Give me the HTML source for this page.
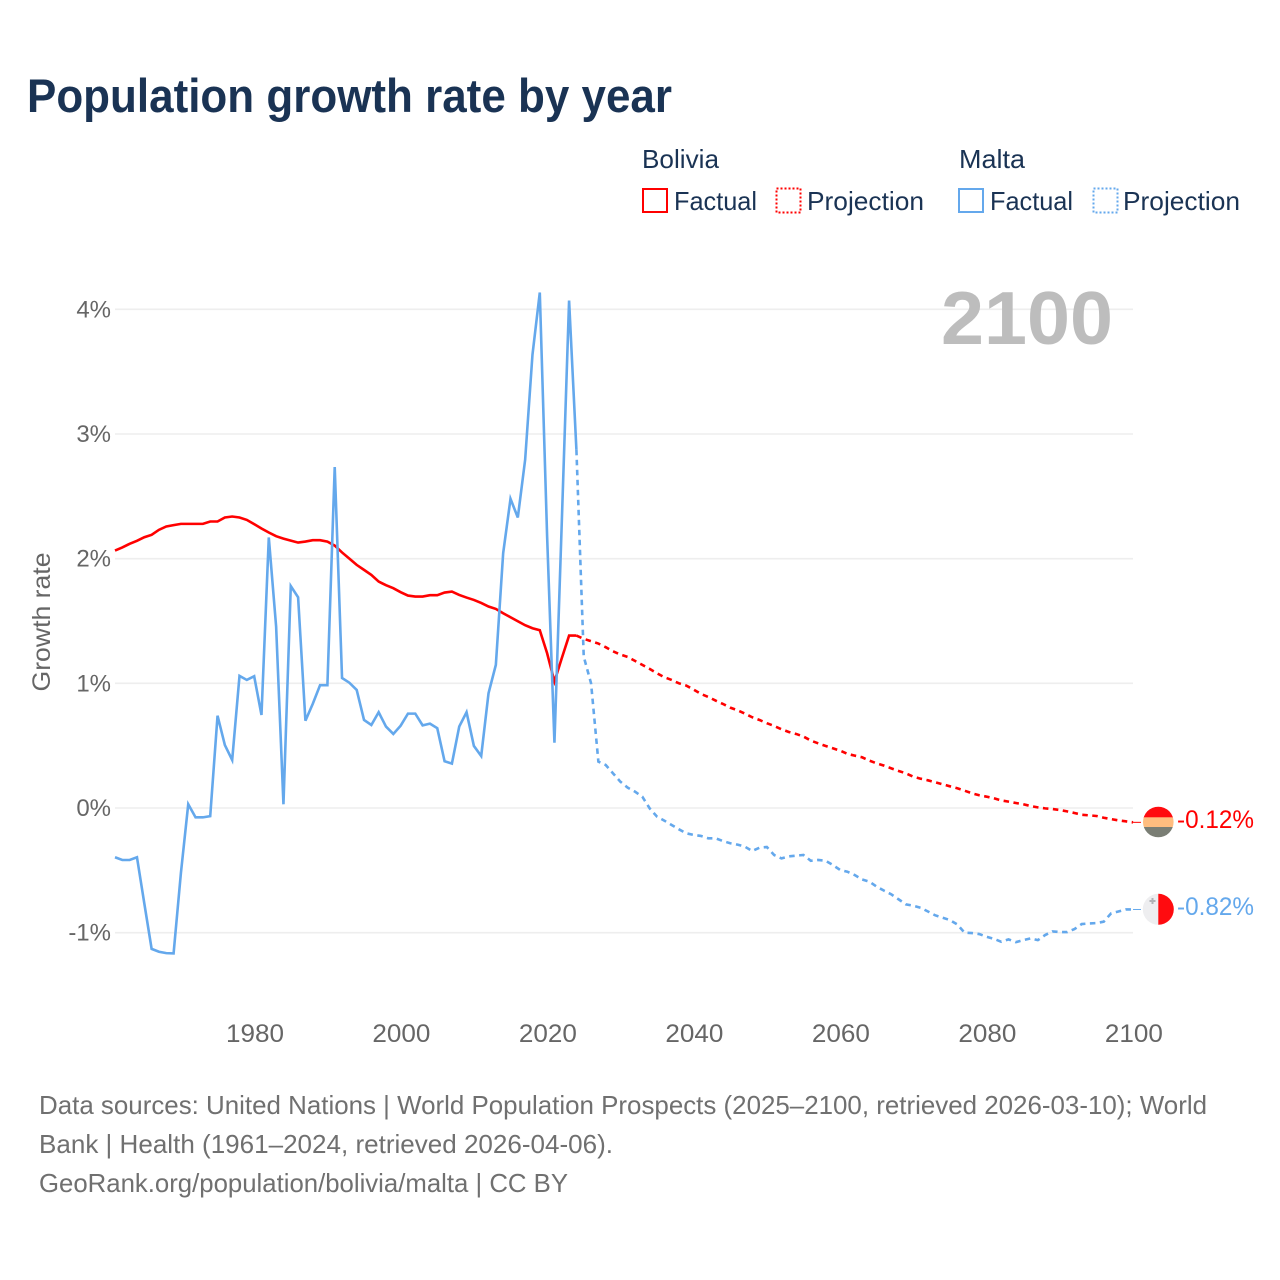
<!DOCTYPE html>
<html lang="en">
<head>
<meta charset="utf-8">
<title>Population growth rate by year</title>
<style>
html,body{margin:0;padding:0;background:#fff;}
svg{display:block;font-family:"Liberation Sans",sans-serif;}
</style>
</head>
<body>
<svg id="chart" width="1280" height="1280" viewBox="0 0 1280 1280" xmlns="http://www.w3.org/2000/svg">
  <rect x="0" y="0" width="1280" height="1280" fill="#ffffff"/>
  <text x="27" y="112" font-size="47" font-weight="700" fill="#1a3354" textLength="645" lengthAdjust="spacingAndGlyphs">Population growth rate by year</text>

  <g font-size="26" fill="#1a3354">
    <text x="642" y="168" textLength="77" lengthAdjust="spacingAndGlyphs">Bolivia</text>
    <text x="959" y="168" textLength="66" lengthAdjust="spacingAndGlyphs">Malta</text>
    <rect x="643" y="189" width="24" height="23" fill="none" stroke="#ff0000" stroke-width="2"/>
    <text x="674" y="210" textLength="83" lengthAdjust="spacingAndGlyphs">Factual</text>
    <rect x="776.5" y="188.5" width="24" height="24" fill="none" stroke="#ff0000" stroke-width="2" stroke-dasharray="2 2"/>
    <text x="807" y="210" textLength="117" lengthAdjust="spacingAndGlyphs">Projection</text>
    <rect x="959" y="189" width="24" height="23" fill="none" stroke="#64a8ec" stroke-width="2"/>
    <text x="990" y="210" textLength="83" lengthAdjust="spacingAndGlyphs">Factual</text>
    <rect x="1093.5" y="188.5" width="24" height="24" fill="none" stroke="#64a8ec" stroke-width="2" stroke-dasharray="2 2"/>
    <text x="1123" y="210" textLength="117" lengthAdjust="spacingAndGlyphs">Projection</text>
  </g>

  <g id="grid"></g>
  <g id="yticks"></g>
  <g id="xticks"></g>
  <text transform="translate(50,622) rotate(-90)" text-anchor="middle" font-size="25" fill="#666666" textLength="139" lengthAdjust="spacingAndGlyphs">Growth rate</text>
  <text x="1113" y="344" text-anchor="end" font-size="75" font-weight="700" fill="#bdbdbd" textLength="172" lengthAdjust="spacingAndGlyphs">2100</text>

  <g id="series"></g>

  <g>
    <clipPath id="clip-bo"><circle cx="1158.3" cy="822" r="15.3"/></clipPath>
    <g clip-path="url(#clip-bo)">
      <rect x="1142" y="806" width="33" height="12" fill="#ff0b0f"/>
      <rect x="1142" y="817.3" width="33" height="10" fill="#ffbd7f"/>
      <rect x="1142" y="827" width="33" height="12" fill="#7a7e74"/>
    </g>
    <text x="1177" y="828" font-size="25" fill="#ff0000" textLength="77" lengthAdjust="spacingAndGlyphs">-0.12%</text>
  </g>
  <g>
    <clipPath id="clip-mt"><circle cx="1158.3" cy="909.3" r="15.5"/></clipPath>
    <g clip-path="url(#clip-mt)">
      <rect x="1142" y="893" width="17" height="33" fill="#eeeef0"/>
      <rect x="1158.3" y="893" width="17" height="33" fill="#ff0b0f"/>
      <path d="M1149.5 901h6M1152.5 898v6" stroke="#b0b2b6" stroke-width="2" fill="none"/>
    </g>
    <text x="1177" y="915" font-size="25" fill="#64a8ec" textLength="77" lengthAdjust="spacingAndGlyphs">-0.82%</text>
  </g>

  <g font-size="26" fill="#707070">
    <text x="39" y="1114" textLength="1168" lengthAdjust="spacingAndGlyphs">Data sources: United Nations | World Population Prospects (2025–2100, retrieved 2026-03-10); World</text>
    <text x="39" y="1153" textLength="574" lengthAdjust="spacingAndGlyphs">Bank | Health (1961–2024, retrieved 2026-04-06).</text>
    <text x="39" y="1192" textLength="529" lengthAdjust="spacingAndGlyphs">GeoRank.org/population/bolivia/malta | CC BY</text>
  </g>
</svg>
<script>
const factualStartYear = 1961;
const projectionStartYear = 2024;
const xTickYears = [1980, 2000, 2020, 2040, 2060, 2080, 2100];
const yTickValues = [-1, 0, 1, 2, 3, 4];
const boliviaFactual = [2.065,2.09,2.119,2.143,2.172,2.191,2.231,2.258,2.269,2.279,2.279,2.279,2.279,2.298,2.298,2.33,2.338,2.33,2.311,2.277,2.242,2.21,2.18,2.161,2.145,2.129,2.137,2.148,2.148,2.137,2.105,2.05,2.0,1.95,1.91,1.87,1.816,1.787,1.763,1.731,1.704,1.696,1.696,1.707,1.707,1.728,1.736,1.709,1.688,1.669,1.645,1.616,1.597,1.562,1.53,1.498,1.466,1.442,1.426,1.241,1.014,1.201,1.383,1.383];
const maltaFactual = [-0.395,-0.417,-0.417,-0.395,-0.765,-1.13,-1.153,-1.164,-1.166,-0.52,0.03,-0.075,-0.075,-0.065,0.74,0.505,0.385,1.06,1.027,1.057,0.746,2.17,1.455,0.03,1.78,1.69,0.70,0.835,0.985,0.985,2.735,1.043,1.005,0.947,0.706,0.666,0.768,0.653,0.594,0.66,0.757,0.757,0.663,0.677,0.64,0.375,0.356,0.653,0.768,0.498,0.417,0.92,1.148,2.044,2.48,2.33,2.793,3.636,4.135,2.178,0.524,2.287,4.07,2.873];
const boliviaProjection = [1.383,1.357,1.338,1.319,1.29,1.257,1.231,1.212,1.18,1.148,1.116,1.081,1.049,1.027,1.0,0.982,0.95,0.915,0.891,0.862,0.835,0.805,0.784,0.757,0.728,0.706,0.68,0.658,0.632,0.61,0.594,0.573,0.541,0.519,0.498,0.479,0.46,0.434,0.42,0.407,0.38,0.358,0.34,0.318,0.297,0.278,0.251,0.235,0.222,0.206,0.19,0.174,0.158,0.139,0.118,0.102,0.091,0.078,0.061,0.051,0.04,0.03,0.016,0.005,-0.003,-0.008,-0.016,-0.027,-0.04,-0.054,-0.059,-0.064,-0.078,-0.089,-0.099,-0.107,-0.115];
const maltaProjection = [2.873,1.214,1.0,0.372,0.345,0.278,0.211,0.163,0.131,0.091,-0.003,-0.069,-0.101,-0.136,-0.171,-0.203,-0.216,-0.224,-0.243,-0.243,-0.265,-0.283,-0.294,-0.31,-0.345,-0.318,-0.313,-0.377,-0.404,-0.388,-0.382,-0.377,-0.423,-0.417,-0.423,-0.457,-0.497,-0.511,-0.538,-0.573,-0.591,-0.631,-0.663,-0.693,-0.733,-0.773,-0.784,-0.8,-0.83,-0.861,-0.88,-0.899,-0.934,-1.0,-1.003,-1.011,-1.033,-1.049,-1.073,-1.054,-1.076,-1.06,-1.046,-1.06,-1.019,-0.99,-0.995,-0.995,-0.971,-0.931,-0.926,-0.923,-0.912,-0.845,-0.83,-0.814,-0.814];

const SVG_NS = 'http://www.w3.org/2000/svg';
const xAxis = function (year) { return 115 + (year - 1961) * 7.324; };
const yAxis = function (value) { return 808 - value * 124.67; };

const gridLayer = document.getElementById('grid');
const yTickLayer = document.getElementById('yticks');
const xTickLayer = document.getElementById('xticks');
const seriesLayer = document.getElementById('series');

yTickValues.forEach(function (value) {
  const line = document.createElementNS(SVG_NS, 'line');
  
  
  line.setAttribute('x1', 115);
  line.setAttribute('x2', 1133);
  line.setAttribute('y1', yAxis(value));
  line.setAttribute('y2', yAxis(value));
  line.setAttribute('stroke', '#eeeeee');
  line.setAttribute('stroke-width', 1.6);
  gridLayer.appendChild(line);

  const label = document.createElementNS(SVG_NS, 'text');
  
  
  label.setAttribute('x', 111);
  label.setAttribute('y', yAxis(value) + 8);
  label.setAttribute('text-anchor', 'end');
  label.setAttribute('font-size', 24);
  label.setAttribute('fill', '#666666');
  label.textContent = value + '%';
  yTickLayer.appendChild(label);
});

xTickYears.forEach(function (year) {
  const label = document.createElementNS(SVG_NS, 'text');
  
  
  label.setAttribute('x', xAxis(year) + 0.8);
  label.setAttribute('y', 1042);
  label.setAttribute('text-anchor', 'middle');
  label.setAttribute('font-size', 25);
  label.setAttribute('fill', '#666666');
  label.setAttribute('textLength', 58);
  label.setAttribute('lengthAdjust', 'spacingAndGlyphs');
  label.textContent = year;
  xTickLayer.appendChild(label);
});

function seriesPath(values, startYear) {
  return values.map(function (value, i) {
    return (i ? 'L' : 'M') + xAxis(startYear + i).toFixed(2) + ' ' + yAxis(value).toFixed(2);
  }).join('');
}

function drawSeries(name, values, startYear, color, dash) {
  const path = document.createElementNS(SVG_NS, 'path');
  
  
  path.setAttribute('d', seriesPath(values, startYear));
  path.setAttribute('fill', 'none');
  path.setAttribute('stroke', color);
  path.setAttribute('stroke-width', 2.6);
  path.setAttribute('stroke-linejoin', 'miter');
  if (dash) path.setAttribute('stroke-dasharray', dash);
  seriesLayer.appendChild(path);
}

function drawLeader(name, value, color) {
  const leader = document.createElementNS(SVG_NS, 'line');
  
  
  leader.setAttribute('x1', xAxis(2100));
  leader.setAttribute('x2', 1141);
  leader.setAttribute('y1', yAxis(value));
  leader.setAttribute('y2', yAxis(value));
  leader.setAttribute('stroke', color);
  leader.setAttribute('stroke-width', 1);
  seriesLayer.appendChild(leader);
}

drawSeries('bolivia-factual-line', boliviaFactual, factualStartYear, '#ff0000', null);
drawSeries('malta-factual-line', maltaFactual, factualStartYear, '#64a8ec', null);
drawSeries('bolivia-projection-line', boliviaProjection, projectionStartYear, '#ff0000', '5.5 4.5');
drawSeries('malta-projection-line', maltaProjection, projectionStartYear, '#64a8ec', '5.5 4.5');
drawLeader('bolivia-end-leader', boliviaProjection[boliviaProjection.length - 1], '#ff0000');
drawLeader('malta-end-leader', maltaProjection[maltaProjection.length - 1], '#64a8ec');
</script>
</body>
</html>
